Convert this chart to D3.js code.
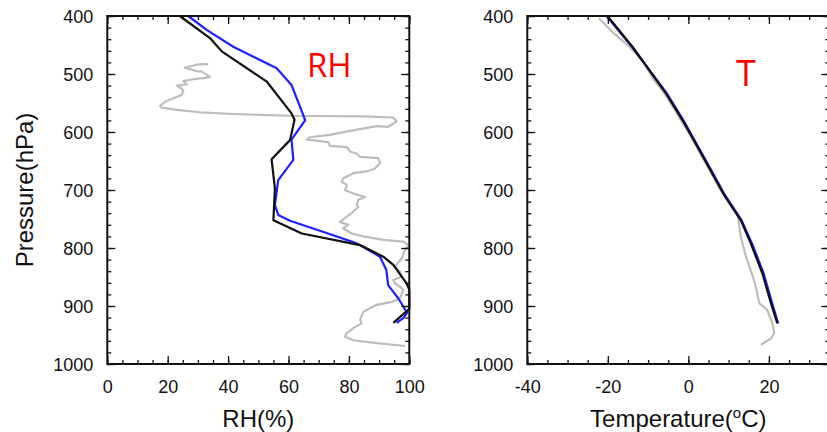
<!DOCTYPE html>
<html lang="en">
<head>
  <meta charset="UTF-8">
  <title>RH and T profiles</title>
  <style>
    body { margin: 0; background: #fff; }
    svg  { display: block; font-family: "Liberation Sans", Arial, sans-serif; }
    .tick text { font-size: 18px; fill: #111; }
    .tick line { stroke: #111; stroke-width: 1.3px; }
    .frame { fill: none; stroke: #111; stroke-width: 2px; }
    .prof  { fill: none; stroke-width: 2.2px; stroke-linejoin: round; }
    .obs   { stroke: #bdbdbd; }
    .m1    { stroke: #111; }
    .m2    { stroke: #1f1fff; }
    .title { font-size: 24px; fill: #111; }
    .tag   { font-family: "Open Sans", "Liberation Sans", sans-serif; fill: #ff0000; }
  </style>
</head>
<body>
  <svg id="chart" width="827" height="432"></svg>

  <script src="https://d3js.org/d3.v7.min.js"></script>
  <script>
    /* ---------- data: pressure levels (hPa) and values ---------- */
    // RH panel, black model
    const rhBlackP = [400, 438, 461, 513, 568, 579, 614, 647, 697, 752, 775, 795, 815, 829, 861, 872, 905, 929];
    const rhBlack  = [24, 34, 37.9, 52.8, 61, 62, 60.5, 54.4, 55.5, 55, 64.4, 83.7, 91.4, 94.7, 99.1, 100, 100, 94.7];
    // RH panel, blue model
    const rhBlueP = [400, 424, 453, 490, 519, 571, 580, 613, 648, 683, 726, 743, 753, 778, 792, 815, 838, 864, 887, 912, 921, 929];
    const rhBlue  = [26.8, 32.9, 41.7, 56.1, 61, 64.9, 65.5, 61, 61.6, 56.6, 55.5, 56.6, 60.5, 74.8, 82.6, 90.3, 92.4, 93, 96.4, 99.3, 98, 95.8];
    // RH panel, observed sounding (grey)
    const rhObsP = [483, 483, 484, 489, 495, 496, 505, 507, 509, 512, 518, 520, 525, 529, 536, 542, 548, 555, 558, 562,
                    566, 569, 572, 573, 575, 582, 591, 590, 598, 605, 609, 613, 615, 618, 624, 626, 634, 637, 643, 645,
                    654, 663, 668, 671, 680, 686, 691, 700, 706, 712, 717, 726, 729, 740, 755, 760, 766, 775, 780, 786,
                    789, 795, 803, 818, 832, 841, 849, 855, 861, 867, 872, 887, 893, 898, 910, 924, 930, 938, 947, 953,
                    959, 964, 969];
    const rhObs  = [33.4, 31.8, 29.6, 25.7, 29.6, 31.3, 34, 31.8, 28.5, 25.2, 26.3, 23, 24.6, 25.2, 24.6, 21.9, 19.1, 17.5, 18, 23,
                    30.7, 41.7, 60, 85, 94.7, 95.8, 93, 89.2, 80.4, 73.7, 67.1, 66, 69.3, 73.2, 73.7, 79.3, 80.4, 82.6, 83.7, 89.7,
                    90.3, 88.6, 85.9, 81.5, 78.1, 77.6, 79.3, 78.7, 81.5, 85.3, 83.1, 82.6, 83.1, 80.9, 77, 79.8, 78.1, 80.9, 84.8, 91.4,
                    98, 99.7, 98.6, 97.5, 95.3, 96.9, 97.5, 94.7, 95.3, 96.9, 98, 96.9, 94.2, 89.2, 84.8, 83.7, 84.2, 81.5, 79.3, 78.7,
                    81.5, 89.2, 98.6];

    // T panel
    const tBlackP = [400, 453, 533, 579, 631, 666, 709, 752, 792, 844, 895, 930];
    const tBlack  = [-20.1, -13.9, -5.6, -1.5, 2.7, 5.5, 8.9, 13, 15.5, 18.4, 20.5, 22.1];
    const tBlueP  = [400, 453, 533, 579, 631, 666, 709, 752, 792, 844, 895, 930];
    const tBlue   = [-20.3, -14.0, -5.4, -1.3, 2.9, 5.7, 9.1, 13.2, 15.8, 18.7, 20.8, 22.3];
    const tObsP   = [404, 430, 453, 480, 510, 533, 560, 580, 610, 640, 670, 700, 723, 745, 760, 780, 815, 855, 878, 895, 907, 930, 947, 956, 967];
    const tObs    = [-22.2, -18.5, -14.6, -11, -8.6, -6, -3.5, -1.8, 0.8, 3.2, 5.6, 8, 10.2, 12.3, 12.6, 13, 14.3, 16.3, 17.1, 17.6, 19.6, 20.9, 21.3, 20.5, 18];

    const pTicks  = [400, 500, 600, 700, 800, 900, 1000];
    const rhTicks = [0, 20, 40, 60, 80, 100];
    const tTicks  = [-40, -20, 0, 20];

    /* ---------- layout ---------- */
    const plotTop = 16, plotBottom = 364, plotW = 302;
    const svg = d3.select('#chart');
    const fmt = d => String(d);   // plain hyphen for negatives, as in the original

    const y = d3.scaleLinear().domain([400, 1000]).range([plotTop, plotBottom]);

    function panel(left, xDomain, xMajor, xMinorStep, xTitle, tag, tagPos, series) {
      const x = d3.scaleLinear().domain(xDomain).range([left, left + plotW]);
      const g = svg.append('g');
      const xMinor = d3.range(xDomain[0], xDomain[1] + 0.01, xMinorStep);
      const yMinor = d3.range(400, 1001, 20);

      // profiles
      series.forEach(s => {
        const pts = s.p.map((p, i) => [s.v[i], p]);
        g.append('path')
          .datum(pts)
          .attr('class', 'prof ' + s.cls)
          .attr('d', d3.line().x(d => x(d[0])).y(d => y(d[1])));
      });

      // minor ticks, all four sides (inward)
      const minor = [
        [d3.axisBottom(x).tickValues(xMinor), `translate(0,${plotBottom})`],
        [d3.axisTop(x).tickValues(xMinor), `translate(0,${plotTop})`],
        [d3.axisLeft(y).tickValues(yMinor), `translate(${left},0)`],
        [d3.axisRight(y).tickValues(yMinor), `translate(${left + plotW},0)`]
      ];
      minor.forEach(([ax, tr]) => {
        const a = g.append('g').attr('transform', tr)
          .call(ax.tickSize(-4).tickFormat(''));
        a.select('.domain').remove();
      });

      // major ticks with labels on left and bottom
      const xb = g.append('g').attr('transform', `translate(0,${plotBottom})`)
        .call(d3.axisBottom(x).tickValues(xMajor).tickSize(-8).tickPadding(16).tickFormat(fmt));
      const yl = g.append('g').attr('transform', `translate(${left},0)`)
        .call(d3.axisLeft(y).tickValues(pTicks).tickSize(-8).tickPadding(14).tickFormat(fmt));
      const xt = g.append('g').attr('transform', `translate(0,${plotTop})`)
        .call(d3.axisTop(x).tickValues(xMajor).tickSize(-8).tickFormat(''));
      const yr = g.append('g').attr('transform', `translate(${left + plotW},0)`)
        .call(d3.axisRight(y).tickValues(pTicks).tickSize(-8).tickFormat(''));
      [xb, yl, xt, yr].forEach(a => a.select('.domain').remove());
      [xb, yl].forEach(a => a.attr('font-family', null).attr('font-size', null));
      xb.selectAll('.tick text').attr('dy', '0.71em');
      yl.selectAll('.tick text').attr('dy', '0.35em');

      g.append('rect')
        .attr('class', 'frame')
        .attr('x', left).attr('y', plotTop)
        .attr('width', plotW).attr('height', plotBottom - plotTop);

      g.append('text')
        .attr('class', 'title')
        .attr('x', left + plotW / 2).attr('y', 427)
        .attr('text-anchor', 'middle')
        .html(xTitle);

      g.append('text')
        .attr('class', 'tag')
        .attr('x', tagPos[0]).attr('y', tagPos[1])
        .attr('font-size', tagPos[2])
        .text(tag);
      return x;
    }

    panel(107.3, [0, 100], rhTicks, 5, 'RH(%)', 'RH', [307, 77, 33], [
      { p: rhObsP, v: rhObs, cls: 'obs' },
      { p: rhBlueP, v: rhBlue, cls: 'm2' },
      { p: rhBlackP, v: rhBlack, cls: 'm1' }
    ]);

    panel(527.3, [-40, 35], tTicks, 5, 'Temperature(<tspan font-size="15" dy="-9">o</tspan><tspan dy="9">C)</tspan>', 'T', [736, 86, 36], [
      { p: tObsP, v: tObs, cls: 'obs' },
      { p: tBlueP, v: tBlue, cls: 'm2' },
      { p: tBlackP, v: tBlack, cls: 'm1' }
    ]);

    // shared y title
    svg.append('text')
      .attr('class', 'title')
      .attr('transform', 'translate(33,190) rotate(-90)')
      .attr('text-anchor', 'middle')
      .text('Pressure(hPa)');
  </script>
</body>
</html>
